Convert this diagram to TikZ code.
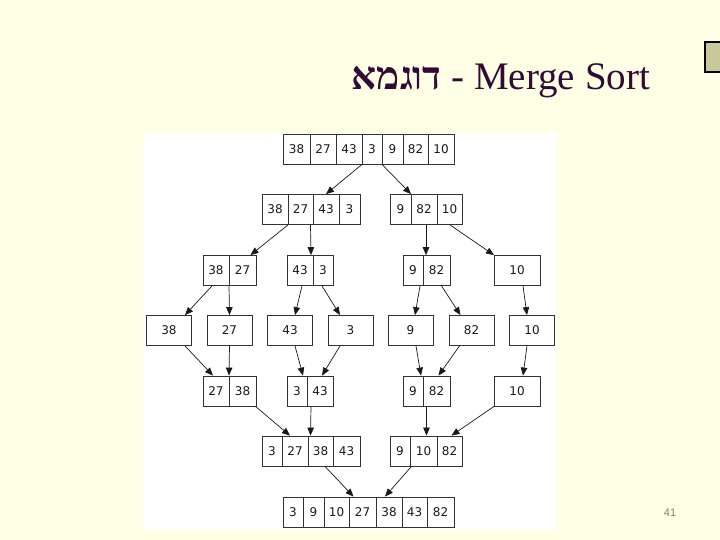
\documentclass[tikz,border=0pt]{standalone}
\usepackage{fontspec}
\setmainfont{Liberation Serif}
\newfontfamily\hebfont[Script=Hebrew]{Liberation Serif}
\newfontfamily\cellfont{DejaVu Sans}
\newfontfamily\numfont{Liberation Sans}
\TeXXeTstate=1
\usetikzlibrary{arrows.meta}
\definecolor{slidebg}{RGB}{255,255,229}
\definecolor{titlecol}{RGB}{51,10,51}
\definecolor{tabcol}{RGB}{200,200,155}

\tikzstyle{cell}=[draw=black!80, line width=0.8pt, minimum height=30pt,
  inner sep=0pt, text=black!90, font=\cellfont\fontsize{12}{12}\selectfont]
\tikzstyle{arr}=[-{Triangle[length=8pt,width=6.5pt]}, black!90, line width=0.7pt]

\begin{document}
\begin{tikzpicture}[x=1pt,y=-1pt]
\fill[slidebg] (0,0) rectangle (720,540);
\useasboundingbox (0,0) rectangle (720,540);
\fill[tabcol, draw=black, line width=1.5pt] (705,42) rectangle (722,72);
\node[anchor=base, text=titlecol, font=\fontsize{39}{39}\selectfont] (title)
  at (501,90) {{\hebfont\bfseries\beginR דוגמא\endR} - Merge Sort};
\node[text=black!50, font=\numfont\fontsize{11}{11}\selectfont] (pagenum)
  at (670,513) {41};
\fill[white] (143,133) rectangle (557,530);
%
% split rows
\foreach \x/\w/\v [count=\i] in {296.5/27/38, 323/26/27, 349/26/43, 372/20/3,
    392.5/21/9, 415.5/25/82, 441/26/10}
  \node[cell, minimum width=\w pt] (r1c\i) at (\x,149) {\v};
\foreach \x/\w/\v [count=\i] in {275/26/38, 300.5/25/27, 326/26/43, 349.5/21/3,
    400.5/21/9, 424/26/82, 449.5/25/10}
  \node[cell, minimum width=\w pt] (r2c\i) at (\x,209.5) {\v};
\foreach \x/\w/\v [count=\i] in {216/26/38, 242.5/27/27, 300/26/43, 323/20/3,
    413/20/9, 436.5/27/82, 517/46/10}
  \node[cell, minimum width=\w pt] (r3c\i) at (\x,270.5) {\v};
\foreach \x/\v [count=\i] in {169/38, 229.5/27, 290/43, 350.5/3,
    410.5/9, 471.5/82, 532/10}
  \node[cell, minimum width=45pt] (r4c\i) at (\x,330.5) {\v};
%
% merged rows
\foreach \x/\w/\v [count=\i] in {216/26/27, 242.5/27/38, 297/20/3, 320/26/43,
    413/20/9, 436.5/27/82, 517/46/10}
  \node[cell, minimum width=\w pt] (r5c\i) at (\x,391) {\v};
\foreach \x/\w/\v [count=\i] in {272/20/3, 295/26/27, 320.5/25/38, 346.5/27/43,
    400/20/9, 423.5/27/10, 449.5/25/82}
  \node[cell, minimum width=\w pt] (r6c\i) at (\x,451) {\v};
\foreach \x/\w/\v [count=\i] in {293/20/3, 313.5/21/9, 336.5/25/10, 362.5/27/27,
    389/26/38, 414.5/25/43, 440.5/27/82}
  \node[cell, minimum width=\w pt] (r7c\i) at (\x,512) {\v};
%
% arrows: start node/shift, end node/shift
\foreach \a/\sa/\b/\sb in {
    r1c3.south/13/r2c3.north/0, r1c4.south/10/r2c5.north/10.5,
    r2c1.south/13/r3c2.north/8, r2c2.south/10/r3c3.north/11,
    r2c6.south/2/r3c6.north/-10.5, r2c7.south/0.5/r3c7.north/-23,
    r3c1.south/-4/r4c1.north/16, r3c1.south/13/r4c2.north/0,
    r3c3.south/2/r4c3.north/5, r3c4.south/-1/r4c4.north/-10.5,
    r3c5.south/7/r4c5.north/4.5, r3c6.south/5/r4c6.north/-11,
    r3c7.south/6/r4c7.north/-5,
    r4c1.south/16/r5c1.north/-3, r4c2.south/0/r5c1.north/13,
    r4c3.south/5/r5c3.north/6, r4c4.south/-10.5/r5c4.north/2,
    r4c5.south/5.5/r5c5.north/8, r4c6.south/-12/r5c6.north/2,
    r4c7.south/-5/r5c7.north/6,
    r5c2.south/13/r6c2.north/-5, r5c4.south/-9/r6c3.north/-10,
    r5c6.south/-10/r6c6.north/3, r5c7.south/-23/r6c7.north/2,
    r6c3.south/4.5/r7c4.north/-9, r6c5.south/11.5/r7c5.north/-4}
  \draw[arr] ([xshift=\sa pt]\a) -- ([xshift=\sb pt]\b);
\end{tikzpicture}
\end{document}
